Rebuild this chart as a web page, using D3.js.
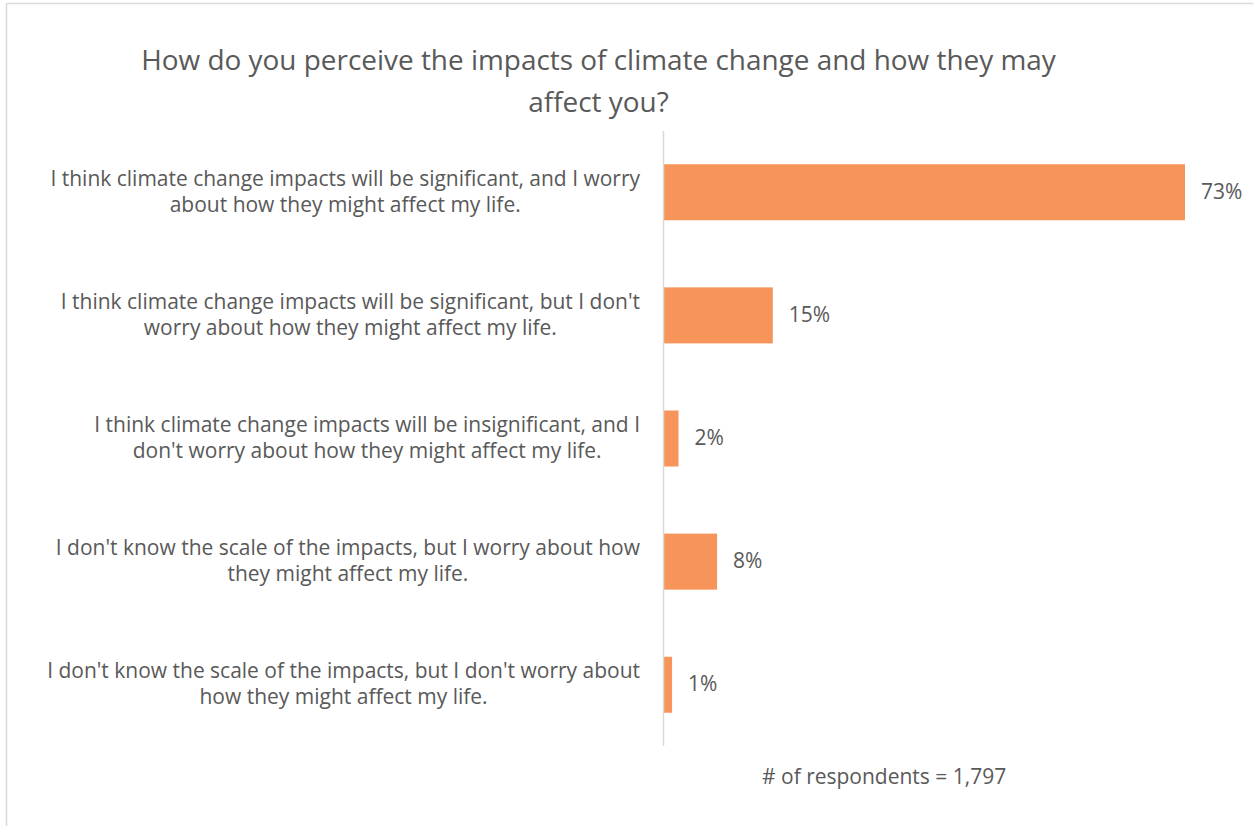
<!DOCTYPE html>
<html><head><meta charset="utf-8">
<script src="https://cdn.jsdelivr.net/npm/d3@7"></script>
<style>body{margin:0;background:#fff;} svg{display:block;}</style>
</head><body>
<script>
const titleLines = ["How do you perceive the impacts of climate change and how they may", "affect you?"];
const categories = [
  ["I think climate change impacts will be significant, and I worry", "about how they might affect my life."],
  ["I think climate change impacts will be significant, but I don't", "worry about how they might affect my life."],
  ["I think climate change impacts will be insignificant, and I", "don't worry about how they might affect my life."],
  ["I don't know the scale of the impacts, but I worry about how", "they might affect my life."],
  ["I don't know the scale of the impacts, but I don't worry about", "how they might affect my life."]
];
const values = [73.0, 15.3, 2.1, 7.5, 1.2];
const valueLabels = ["73%", "15%", "2%", "8%", "1%"];
const footnote = "# of respondents = 1,797";

const W = 1253, H = 826;
const font = "'Open Sans', 'Noto Sans', sans-serif";
const txt = "#595959";
const svg = d3.select("body").append("svg").attr("width", W).attr("height", H);
svg.append("rect").attr("width", W).attr("height", H).attr("fill", "#fff");
// border
svg.append("line").attr("x1", 6.5).attr("x2", 6.5).attr("y1", 3.5).attr("y2", H).attr("stroke", "#d9d9d9").attr("stroke-width", 1.5);
svg.append("line").attr("x1", 6.5).attr("x2", W).attr("y1", 3.5).attr("y2", 3.5).attr("stroke", "#d9d9d9").attr("stroke-width", 1.5);

function fit(sel, target) {
  const w = sel.node().getComputedTextLength();
  const fs = parseFloat(sel.attr("font-size"));
  return fs * target / w;
}

// title
const t1 = svg.append("text").attr("font-family", font).attr("font-size", 26).attr("fill", txt)
  .attr("text-anchor", "middle").attr("x", 598.5).attr("y", 70).text(titleLines[0]);
const tfs = fit(t1, 915);
t1.attr("font-size", tfs);
svg.append("text").attr("font-family", font).attr("font-size", tfs).attr("fill", txt)
  .attr("text-anchor", "middle").attr("x", 598.5).attr("y", 112).text(titleLines[1]);

const x0 = 663.5;
const x = d3.scaleLinear().domain([0, 73]).range([x0, 1185]);
const y = d3.scaleBand().domain(d3.range(values.length)).range([131, 746]).paddingInner(0.545).paddingOuter(0.27);

// label font fit
const probe = svg.append("text").attr("font-family", font).attr("font-size", 18).text(categories[0][0]);
const lfs = fit(probe, 590);
probe.remove();

const g = svg.append("g");
g.selectAll("rect.bar").data(values).join("rect").attr("class", "bar")
  .attr("x", x0 + 0.5).attr("y", (d, i) => y(i)).attr("height", y.bandwidth())
  .attr("width", d => x(d) - x0 - 0.5).attr("fill", "#f79459");

// axis line
svg.append("line").attr("x1", x0).attr("x2", x0).attr("y1", 131).attr("y2", 746).attr("stroke", "#d9d9d9").attr("stroke-width", 1.5);

// category labels: block right-aligned at 640, lines centered within block
const rightEdge = 640;
categories.forEach((lines, i) => {
  const cy = y(i) + y.bandwidth() / 2;
  const texts = lines.map((l, j) => svg.append("text").attr("font-family", font).attr("font-size", lfs)
    .attr("fill", txt).attr("text-anchor", "middle").attr("y", cy - 6.5 + j * 26).text(l));
  const maxW = d3.max(texts, t => t.node().getComputedTextLength());
  texts.forEach(t => t.attr("x", rightEdge - maxW / 2));
});

// value labels
svg.selectAll("text.val").data(values).join("text").attr("class", "val")
  .attr("font-family", font).attr("font-size", lfs).attr("fill", txt)
  .attr("x", d => x(d) + 16).attr("y", (d, i) => y(i) + y.bandwidth() / 2 + 6.5)
  .text((d, i) => valueLabels[i]);

// footnote
svg.append("text").attr("font-family", font).attr("font-size", lfs).attr("fill", txt)
  .attr("x", 762).attr("y", 784).text(footnote);
</script>
</body></html>
